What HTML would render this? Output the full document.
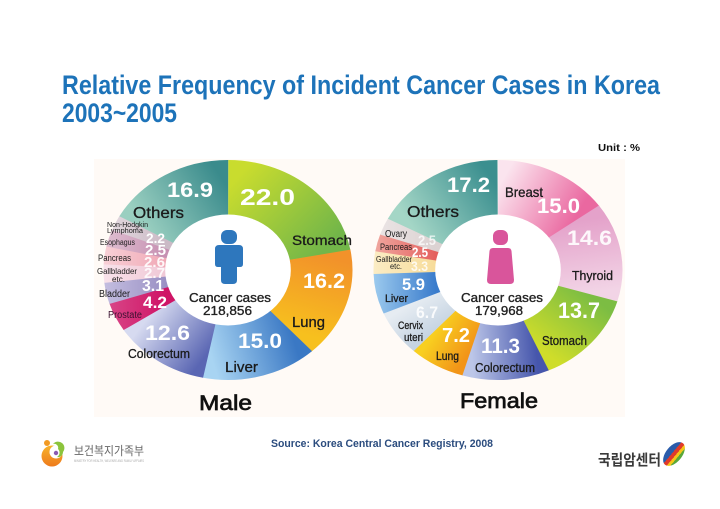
<!DOCTYPE html>
<html>
<head>
<meta charset="utf-8">
<style>
html,body{margin:0;padding:0;background:#ffffff;}
body{width:720px;height:509px;overflow:hidden;}
svg{display:block;}
text{font-family:"Liberation Sans","Noto Sans CJK KR",sans-serif;}
.num{font-weight:bold;fill:#ffffff;}
.lab{fill:#1a1a1a;stroke:#1a1a1a;stroke-width:0.3;}
.cc{fill:#222;stroke:#222;stroke-width:0.35;}
.big{fill:#111;stroke:#111;stroke-width:0.7;}
</style>
</head>
<body>
<svg width="720" height="509" viewBox="0 0 720 509" xmlns="http://www.w3.org/2000/svg">
<defs>
  <linearGradient id="mSto" gradientUnits="userSpaceOnUse" x1="0" y1="-82.5" x2="81" y2="-15.5"><stop offset="0" stop-color="#c9dc2e"/><stop offset="1" stop-color="#72b649"/></linearGradient>
  <linearGradient id="mLun" gradientUnits="userSpaceOnUse" x1="81" y1="-15.5" x2="55.7" y2="60.8"><stop offset="0" stop-color="#f2922a"/><stop offset="1" stop-color="#f7c01e"/></linearGradient>
  <linearGradient id="mLiv" gradientUnits="userSpaceOnUse" x1="55.7" y1="60.8" x2="-16.4" y2="80.8"><stop offset="0" stop-color="#3a78c4"/><stop offset="1" stop-color="#a8d4f2"/></linearGradient>
  <linearGradient id="mCol" gradientUnits="userSpaceOnUse" x1="-16.4" y1="80.8" x2="-69.1" y2="45"><stop offset="0" stop-color="#5a66b3"/><stop offset="1" stop-color="#d6daf0"/></linearGradient>
  <linearGradient id="mOth" gradientUnits="userSpaceOnUse" x1="-72" y1="-40.2" x2="0" y2="-82.5"><stop offset="0" stop-color="#9acfc0"/><stop offset="1" stop-color="#3a8b8c"/></linearGradient>
  <linearGradient id="mPro" gradientUnits="userSpaceOnUse" x1="-110" y1="0" x2="-55" y2="0"><stop offset="0" stop-color="#d94a8a"/><stop offset="1" stop-color="#cf1466"/></linearGradient>
  <linearGradient id="mBla" gradientUnits="userSpaceOnUse" x1="-110" y1="0" x2="-55" y2="0"><stop offset="0" stop-color="#c4bee0"/><stop offset="1" stop-color="#9a90c4"/></linearGradient>
  <linearGradient id="mGal" gradientUnits="userSpaceOnUse" x1="-110" y1="0" x2="-55" y2="0"><stop offset="0" stop-color="#f8e2ea"/><stop offset="1" stop-color="#f0c8d6"/></linearGradient>
  <linearGradient id="mPan" gradientUnits="userSpaceOnUse" x1="-110" y1="0" x2="-55" y2="0"><stop offset="0" stop-color="#f8d0d6"/><stop offset="1" stop-color="#f0a8b6"/></linearGradient>
  <linearGradient id="mEso" gradientUnits="userSpaceOnUse" x1="-110" y1="0" x2="-55" y2="0"><stop offset="0" stop-color="#e0c0d2"/><stop offset="1" stop-color="#c690b2"/></linearGradient>
  <linearGradient id="mNhl" gradientUnits="userSpaceOnUse" x1="-110" y1="0" x2="-55" y2="0"><stop offset="0" stop-color="#e6dce2"/><stop offset="1" stop-color="#cbbac6"/></linearGradient>
  <linearGradient id="fBre" gradientUnits="userSpaceOnUse" x1="0" y1="-82.5" x2="66.7" y2="-48.5"><stop offset="0" stop-color="#fbe4ee"/><stop offset="1" stop-color="#ea68a0"/></linearGradient>
  <linearGradient id="fThy" gradientUnits="userSpaceOnUse" x1="66.7" y1="-48.5" x2="79.1" y2="23.6"><stop offset="0" stop-color="#e4a2ca"/><stop offset="1" stop-color="#f2d4e6"/></linearGradient>
  <linearGradient id="fSto" gradientUnits="userSpaceOnUse" x1="79.1" y1="23.6" x2="33.7" y2="75.3"><stop offset="0" stop-color="#7cbd43"/><stop offset="1" stop-color="#cfdd2a"/></linearGradient>
  <linearGradient id="fCol" gradientUnits="userSpaceOnUse" x1="33.7" y1="75.3" x2="-23.6" y2="79.1"><stop offset="0" stop-color="#4656ac"/><stop offset="1" stop-color="#bcc6e8"/></linearGradient>
  <linearGradient id="fLun" gradientUnits="userSpaceOnUse" x1="-23.6" y1="79.1" x2="-55.7" y2="60.8"><stop offset="0" stop-color="#f29418"/><stop offset="1" stop-color="#f8cf20"/></linearGradient>
  <linearGradient id="fCer" gradientUnits="userSpaceOnUse" x1="-55.7" y1="60.8" x2="-75.7" y2="32.8"><stop offset="0" stop-color="#c6d4e2"/><stop offset="1" stop-color="#e6ecf2"/></linearGradient>
  <linearGradient id="fLiv" gradientUnits="userSpaceOnUse" x1="-110" y1="0" x2="-55" y2="0"><stop offset="0" stop-color="#9ccaee"/><stop offset="1" stop-color="#3a7ccc"/></linearGradient>
  <linearGradient id="fGal" gradientUnits="userSpaceOnUse" x1="-110" y1="0" x2="-55" y2="0"><stop offset="0" stop-color="#fbecc4"/><stop offset="1" stop-color="#f7dc9a"/></linearGradient>
  <linearGradient id="fPan" gradientUnits="userSpaceOnUse" x1="-110" y1="0" x2="-55" y2="0"><stop offset="0" stop-color="#f0a8a0"/><stop offset="1" stop-color="#e4605e"/></linearGradient>
  <linearGradient id="fOva" gradientUnits="userSpaceOnUse" x1="-110" y1="0" x2="-55" y2="0"><stop offset="0" stop-color="#ece6e6"/><stop offset="1" stop-color="#dcd2d2"/></linearGradient>
  <linearGradient id="fOth" gradientUnits="userSpaceOnUse" x1="-73" y1="-38.3" x2="0" y2="-82.5"><stop offset="0" stop-color="#a4d6c6"/><stop offset="1" stop-color="#3b8f8f"/></linearGradient>
  <linearGradient id="leaf" x1="0" y1="0" x2="1" y2="0">
    <stop offset="0" stop-color="#2a5cab"/><stop offset="0.38" stop-color="#2a5cab"/>
    <stop offset="0.38" stop-color="#e03a2a"/><stop offset="0.62" stop-color="#e03a2a"/>
    <stop offset="0.62" stop-color="#f5c518"/><stop offset="0.8" stop-color="#f5c518"/>
    <stop offset="0.8" stop-color="#5aa83a"/><stop offset="1" stop-color="#5aa83a"/>
  </linearGradient>
  <linearGradient id="orng" x1="0" y1="0" x2="0" y2="1"><stop offset="0" stop-color="#f7b32b"/><stop offset="1" stop-color="#ee7a1c"/></linearGradient>
</defs>

<rect x="94" y="159" width="531" height="258" fill="#fffaf6"/>

<text x="62" y="94" font-size="26.5" font-weight="bold" fill="#1d73b9" textLength="598" lengthAdjust="spacingAndGlyphs">Relative Frequency of Incident Cancer Cases in Korea</text>
<text x="62" y="122" font-size="26.5" font-weight="bold" fill="#1d73b9" textLength="115" lengthAdjust="spacingAndGlyphs">2003~2005</text>
<text x="598" y="151" font-size="10.5" font-weight="bold" fill="#111" textLength="42" lengthAdjust="spacingAndGlyphs">Unit : %</text>

<g transform="translate(228,270) scale(1.132,1)">
  <g fill="none" stroke-width="55">
    <circle r="82.5" stroke="url(#mSto)" stroke-dasharray="114.5 403.86" stroke-dashoffset="129.59"/>
    <circle r="82.5" stroke="url(#mLun)" stroke-dasharray="84.5 433.86" stroke-dashoffset="15.55"/>
    <circle r="82.5" stroke="url(#mLiv)" stroke-dasharray="78.2 440.16" stroke-dashoffset="449.94"/>
    <circle r="82.5" stroke="url(#mCol)" stroke-dasharray="65.8 452.56" stroke-dashoffset="372.18"/>
    <circle r="82.5" stroke="url(#mPro)" stroke-dasharray="22.2 496.16" stroke-dashoffset="306.87"/>
    <circle r="82.5" stroke="url(#mBla)" stroke-dasharray="16.5 501.86" stroke-dashoffset="285.10"/>
    <circle r="82.5" stroke="url(#mGal)" stroke-dasharray="14.4 503.96" stroke-dashoffset="269.03"/>
    <circle r="82.5" stroke="url(#mPan)" stroke-dasharray="13.9 504.46" stroke-dashoffset="255.03"/>
    <circle r="82.5" stroke="url(#mEso)" stroke-dasharray="13.4 504.96" stroke-dashoffset="241.55"/>
    <circle r="82.5" stroke="url(#mNhl)" stroke-dasharray="11.8 506.56" stroke-dashoffset="228.59"/>
    <circle r="82.5" stroke="url(#mOth)" stroke-dasharray="87.6 430.76" stroke-dashoffset="217.19"/>
  </g>
  <circle r="55.5" fill="#ffffff"/>
</g>

<g transform="translate(498,270) scale(1.132,1)">
  <g fill="none" stroke-width="55">
    <circle r="82.5" stroke="url(#fBre)" stroke-dasharray="78.2 440.16" stroke-dashoffset="129.59"/>
    <circle r="82.5" stroke="url(#fThy)" stroke-dasharray="76.1 442.26" stroke-dashoffset="51.83"/>
    <circle r="82.5" stroke="url(#fSto)" stroke-dasharray="71.5 446.86" stroke-dashoffset="494.52"/>
    <circle r="82.5" stroke="url(#fCol)" stroke-dasharray="59.0 459.36" stroke-dashoffset="423.50"/>
    <circle r="82.5" stroke="url(#fLun)" stroke-dasharray="37.8 480.56" stroke-dashoffset="364.92"/>
    <circle r="82.5" stroke="url(#fCer)" stroke-dasharray="35.2 483.16" stroke-dashoffset="327.60"/>
    <circle r="82.5" stroke="url(#fLiv)" stroke-dasharray="31.0 487.36" stroke-dashoffset="292.87"/>
    <circle r="82.5" stroke="url(#fGal)" stroke-dasharray="17.5 500.86" stroke-dashoffset="262.29"/>
    <circle r="82.5" stroke="url(#fPan)" stroke-dasharray="13.4 504.96" stroke-dashoffset="245.18"/>
    <circle r="82.5" stroke="url(#fOva)" stroke-dasharray="13.4 504.96" stroke-dashoffset="232.22"/>
    <circle r="82.5" stroke="url(#fOth)" stroke-dasharray="89.16 429.20" stroke-dashoffset="219.26"/>
  </g>
  <circle r="55.5" fill="#ffffff"/>
</g>

<text class="num" x="240" y="205" font-size="23" textLength="55" lengthAdjust="spacingAndGlyphs">22.0</text>
<text class="lab" x="292" y="245" font-size="14" textLength="60" lengthAdjust="spacingAndGlyphs">Stomach</text>
<text class="num" x="303" y="288" font-size="21" textLength="42" lengthAdjust="spacingAndGlyphs">16.2</text>
<text class="lab" x="292" y="327" font-size="15" textLength="33" lengthAdjust="spacingAndGlyphs">Lung</text>
<text class="num" x="238" y="348" font-size="21" textLength="44" lengthAdjust="spacingAndGlyphs">15.0</text>
<text class="lab" x="225" y="372" font-size="15" textLength="33" lengthAdjust="spacingAndGlyphs">Liver</text>
<text class="num" x="145" y="340" font-size="21" textLength="45" lengthAdjust="spacingAndGlyphs">12.6</text>
<text class="lab" x="128" y="358" font-size="13" textLength="62" lengthAdjust="spacingAndGlyphs">Colorectum</text>
<text class="num" x="143" y="308" font-size="17" textLength="24" lengthAdjust="spacingAndGlyphs">4.2</text>
<text x="108" y="318" font-size="10" fill="#3a1030" textLength="34" lengthAdjust="spacingAndGlyphs">Prostate</text>
<text class="num" x="142" y="291" font-size="16" textLength="22" lengthAdjust="spacingAndGlyphs">3.1</text>
<text x="99" y="297" font-size="10" fill="#1a1a1a" textLength="31" lengthAdjust="spacingAndGlyphs">Bladder</text>
<text class="num" x="144" y="278" font-size="15" fill-opacity="0.85" textLength="21" lengthAdjust="spacingAndGlyphs">2.7</text>
<text x="97" y="274" font-size="8.5" fill="#1a1a1a" textLength="40" lengthAdjust="spacingAndGlyphs">Gallbladder</text>
<text x="112" y="282" font-size="8.5" fill="#1a1a1a" textLength="13" lengthAdjust="spacingAndGlyphs">etc.</text>
<text class="num" x="144" y="267" font-size="15" fill-opacity="0.9" textLength="21" lengthAdjust="spacingAndGlyphs">2.6</text>
<text x="98" y="261" font-size="9" fill="#1a1a1a" textLength="33" lengthAdjust="spacingAndGlyphs">Pancreas</text>
<text class="num" x="145" y="255" font-size="15" textLength="21" lengthAdjust="spacingAndGlyphs">2.5</text>
<text x="100" y="245" font-size="8" fill="#1a1a1a" textLength="35" lengthAdjust="spacingAndGlyphs">Esophagus</text>
<text class="num" x="146" y="243" font-size="14" textLength="19" lengthAdjust="spacingAndGlyphs">2.2</text>
<text x="107" y="227" font-size="7.5" fill="#1a1a1a" textLength="41" lengthAdjust="spacingAndGlyphs">Non-Hodgkin</text>
<text x="107" y="233" font-size="7.5" fill="#1a1a1a" textLength="36" lengthAdjust="spacingAndGlyphs">Lymphoma</text>
<text class="num" x="167" y="197" font-size="21" textLength="46" lengthAdjust="spacingAndGlyphs">16.9</text>
<text class="lab" x="133" y="218" font-size="16" textLength="51" lengthAdjust="spacingAndGlyphs">Others</text>

<rect x="221" y="230" width="16" height="14" rx="6" fill="#2e77bd"/>
<path d="M219 245 H239 Q243 245 243 249 V264 Q243 267 240 267 H237 V280 Q237 284 233 284 H225 Q221 284 221 280 V267 H218 Q215 267 215 264 V249 Q215 245 219 245 Z" fill="#2e77bd"/>
<text class="cc" x="189" y="302" font-size="13" textLength="82" lengthAdjust="spacingAndGlyphs">Cancer cases</text>
<text class="cc" x="203" y="315" font-size="13" textLength="49" lengthAdjust="spacingAndGlyphs">218,856</text>
<text class="big" x="199" y="410" font-size="21" textLength="53" lengthAdjust="spacingAndGlyphs">Male</text>

<text class="num" x="447" y="192" font-size="21" textLength="43" lengthAdjust="spacingAndGlyphs">17.2</text>
<text class="lab" x="407" y="217" font-size="16" textLength="52" lengthAdjust="spacingAndGlyphs">Others</text>
<text class="lab" x="505" y="197" font-size="14" textLength="38" lengthAdjust="spacingAndGlyphs">Breast</text>
<text class="num" x="537" y="213" font-size="21" textLength="43" lengthAdjust="spacingAndGlyphs">15.0</text>
<text class="num" x="567" y="245" font-size="21" fill-opacity="0.9" textLength="45" lengthAdjust="spacingAndGlyphs">14.6</text>
<text class="lab" x="572" y="280" font-size="13" textLength="41" lengthAdjust="spacingAndGlyphs">Thyroid</text>
<text class="num" x="558" y="318" font-size="22" textLength="42" lengthAdjust="spacingAndGlyphs">13.7</text>
<text class="lab" x="542" y="345" font-size="13" textLength="45" lengthAdjust="spacingAndGlyphs">Stomach</text>
<text class="num" x="481" y="353" font-size="21" textLength="39" lengthAdjust="spacingAndGlyphs">11.3</text>
<text class="lab" x="475" y="372" font-size="13" textLength="60" lengthAdjust="spacingAndGlyphs">Colorectum</text>
<text class="num" x="442" y="342" font-size="20" textLength="28" lengthAdjust="spacingAndGlyphs">7.2</text>
<text class="lab" x="436" y="360" font-size="12" textLength="23" lengthAdjust="spacingAndGlyphs">Lung</text>
<text class="num" x="416" y="318" font-size="17" fill-opacity="0.85" textLength="22" lengthAdjust="spacingAndGlyphs">6.7</text>
<text class="lab" x="398" y="329" font-size="11" textLength="25" lengthAdjust="spacingAndGlyphs">Cervix</text>
<text class="lab" x="404" y="341" font-size="11" textLength="19" lengthAdjust="spacingAndGlyphs">uteri</text>
<text class="num" x="402" y="290" font-size="17" textLength="23" lengthAdjust="spacingAndGlyphs">5.9</text>
<text class="lab" x="385" y="302" font-size="11" textLength="23" lengthAdjust="spacingAndGlyphs">Liver</text>
<text class="num" x="411" y="271" font-size="14" fill-opacity="0.8" textLength="17" lengthAdjust="spacingAndGlyphs">3.3</text>
<text x="376" y="262" font-size="8" fill="#1a1a1a" textLength="36" lengthAdjust="spacingAndGlyphs">Gallbladder</text>
<text x="390" y="269" font-size="8" fill="#1a1a1a" textLength="12" lengthAdjust="spacingAndGlyphs">etc.</text>
<text class="num" x="412" y="257" font-size="14" textLength="16" lengthAdjust="spacingAndGlyphs">2.5</text>
<text x="380" y="250" font-size="9" fill="#1a1a1a" textLength="32" lengthAdjust="spacingAndGlyphs">Pancreas</text>
<text class="num" x="418" y="245" font-size="14" fill-opacity="0.75" textLength="18" lengthAdjust="spacingAndGlyphs">2.5</text>
<text x="385" y="237" font-size="10" fill="#1a1a1a" textLength="22" lengthAdjust="spacingAndGlyphs">Ovary</text>

<rect x="493" y="230" width="15" height="15" rx="6" fill="#d9559b"/>
<path d="M493 248 H508 Q511 248 511.5 251 L514 280 Q514 284 510 284 H491 Q487 284 487 280 L489.5 251 Q490 248 493 248 Z" fill="#d9559b"/>
<text class="cc" x="461" y="302" font-size="13" textLength="82" lengthAdjust="spacingAndGlyphs">Cancer cases</text>
<text class="cc" x="475" y="315" font-size="13" textLength="48" lengthAdjust="spacingAndGlyphs">179,968</text>
<text class="big" x="460" y="408" font-size="21" textLength="78" lengthAdjust="spacingAndGlyphs">Female</text>

<text x="271" y="447" font-size="11" font-weight="bold" fill="#2b4c7e" textLength="222" lengthAdjust="spacingAndGlyphs">Source: Korea Central Cancer Registry, 2008</text>

<circle cx="52" cy="456" r="10.5" fill="url(#orng)"/>
<circle cx="56" cy="452" r="6.5" fill="#ffffff"/>
<path d="M53 444 A6 6 0 0 1 63 452 A5 5 0 0 1 57 457 A5 5 0 0 0 58 449 A4 4 0 0 0 53 444 Z" fill="#8cc43c"/>
<circle cx="47" cy="443" r="3" fill="#f29a22"/>
<circle cx="56" cy="453" r="2.2" fill="#8a5bb0"/>
<text x="74" y="455" font-size="12" fill="#666" textLength="70" lengthAdjust="spacingAndGlyphs">보건복지가족부</text>
<text x="74" y="462" font-size="3.5" fill="#aaa" textLength="70" lengthAdjust="spacingAndGlyphs">MINISTRY FOR HEALTH, WELFARE AND FAMILY AFFAIRS</text>

<text x="598" y="465" font-size="15" font-weight="bold" fill="#3a3a3a" textLength="63" lengthAdjust="spacingAndGlyphs">국립암센터</text>
<g transform="translate(674,454) rotate(40)">
  <ellipse cx="0" cy="0" rx="8" ry="14" fill="url(#leaf)"/>
</g>
</svg>
</body>
</html>
